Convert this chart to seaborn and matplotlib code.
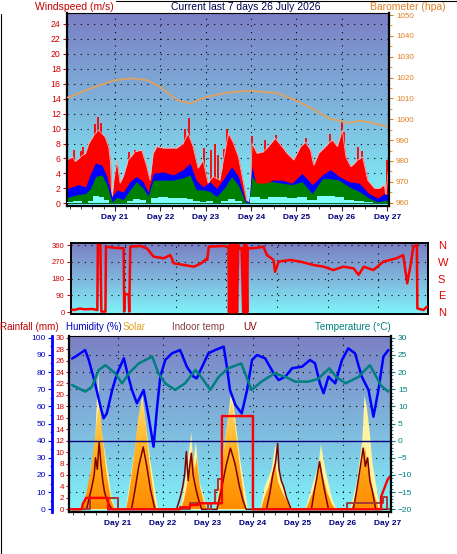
import numpy as np
import matplotlib
matplotlib.use('Agg')
import matplotlib.pyplot as plt
from matplotlib.colors import LinearSegmentedColormap
from matplotlib.patches import PathPatch
from matplotlib.ticker import MultipleLocator
import seaborn as sns

sns.set_style('ticks')
plt.rcParams['font.family'] = ['Liberation Sans', 'DejaVu Sans']

# ---- data (time in days of July 2026) ----
days = [21, 22, 23, 24, 25, 26, 27]
day_labels = ['Day 21', 'Day 22', 'Day 23', 'Day 24', 'Day 25', 'Day 26', 'Day 27']

gust_t = [19.95, 19.99, 20.07, 20.12, 20.2, 20.28, 20.35, 20.42, 20.53, 20.6, 20.64, 20.7, 20.78, 20.86,
          20.9, 20.93, 20.97, 21.04, 21.11, 21.18, 21.29, 21.44, 21.59, 21.7, 21.77, 21.84, 21.92, 22.06,
          22.21, 22.36, 22.5, 22.61, 22.72, 22.83, 22.94, 23.05, 23.16, 23.31, 23.43, 23.5, 23.6, 23.72,
          23.83, 23.91, 23.98, 24.02, 24.13, 24.27, 24.38, 24.53, 24.68, 24.79, 24.94, 25.09, 25.2, 25.31,
          25.38, 25.49, 25.64, 25.79, 25.9, 26.01, 26.09, 26.2, 26.35, 26.46, 26.57, 26.72, 26.83, 26.94,
          26.97, 27.02]
gust_v = [5.8, 6.0, 6.2, 5.6, 6.0, 6.4, 6.7, 8.0, 9.1, 9.6, 9.8, 9.4, 8.9, 7.5,
          5.4, 0.4, 3.0, 5.8, 2.7, 3.6, 5.8, 6.9, 7.1, 4.9, 3.1, 6.7, 7.6, 7.4,
          7.4, 7.4, 8.0, 9.4, 7.6, 4.7, 5.8, 2.7, 3.6, 3.1, 7.1, 9.4, 8.2, 6.2,
          2.7, 0.2, 0.4, 8.0, 6.7, 6.9, 7.6, 8.7, 7.6, 6.7, 5.8, 7.6, 8.2, 7.1,
          5.1, 6.7, 7.6, 8.5, 7.6, 9.8, 6.2, 4.9, 5.8, 6.2, 3.1, 2.0, 2.0, 2.5,
          0.9, 4.2]
spike_t = [20.1, 20.25, 20.3, 20.55, 20.62, 20.68, 21.3, 21.45, 21.52, 22.55, 22.62, 22.95, 23.12, 23.2,
           23.28, 23.4, 23.47, 24.03, 24.3, 24.55, 25.21, 25.75, 25.85, 26.0, 26.05, 26.35, 26.45, 26.99]
spike_v = [7.2, 7.0, 7.5, 10.6, 11.6, 10.8, 6.9, 7.2, 7.0, 10.0, 11.4, 7.4, 7.1, 7.9,
           6.5, 7.3, 10.0, 9.0, 8.5, 9.2, 8.8, 9.3, 8.0, 11.0, 9.5, 7.5, 7.0, 5.8]

wind_t = [19.95, 20.2, 20.35, 20.46, 20.57, 20.71, 20.82, 20.93, 21.04, 21.18, 21.33, 21.47, 21.62, 21.73,
          21.84, 22.06, 22.28, 22.5, 22.65, 22.79, 22.94, 23.09, 23.24, 23.43, 23.57, 23.72, 23.87, 23.95,
          24.02, 24.13, 24.27, 24.46, 24.68, 24.9, 25.12, 25.35, 25.57, 25.75, 25.94, 26.16, 26.38, 26.6,
          26.79, 26.94, 27.02]
avg_v = [2.0, 2.5, 2.2, 4.0, 5.4, 5.1, 3.6, 0.9, 1.8, 1.5, 2.9, 3.6, 2.9, 1.5,
         4.0, 4.2, 3.8, 4.5, 5.4, 3.1, 2.2, 2.9, 2.0, 3.6, 4.9, 3.6, 0.4, 0.2,
         4.9, 2.0, 2.2, 3.1, 3.1, 2.7, 4.0, 2.5, 3.8, 4.5, 3.6, 2.9, 2.7, 1.3,
         0.7, 1.3, 1.1]
low_v = [0.8, 1.2, 1.3, 2.0, 3.6, 3.8, 2.5, 0.2, 0.8, 0.5, 1.8, 2.9, 2.0, 1.0,
         3.1, 3.1, 3.1, 3.4, 3.8, 1.8, 1.8, 1.6, 0.9, 2.2, 3.6, 2.4, 0.2, 0.0,
         3.6, 2.7, 2.7, 2.9, 2.7, 2.5, 2.9, 1.3, 3.3, 3.3, 3.1, 2.2, 1.6, 0.7,
         0.2, 0.4, 0.4]
calm_v = [0.2, 0.3, 0.0, 0.3, 1.0, 0.9, 0.4, 0.0, 0.0, 0.0, 0.3, 0.6, 0.4, 0.0,
          0.7, 0.8, 0.7, 0.7, 0.6, 0.3, 0.2, 0.3, 0.0, 0.3, 0.6, 0.3, 0.0, 0.0,
          0.8, 0.8, 0.6, 0.8, 0.9, 0.7, 0.9, 0.4, 1.0, 1.0, 0.8, 0.5, 0.3, 0.2,
          0.0, 0.0, 0.0]

baro_t = [19.95, 20.01, 20.37, 20.67, 21.0, 21.4, 21.7, 21.99, 22.36, 22.66, 23.02, 23.54, 24.0, 24.6,
          24.97, 25.41, 25.7, 26.14, 26.44, 26.73, 27.02]
baro_v = [1010.5, 1010.8, 1014.0, 1016.4, 1018.8, 1019.6, 1018.8, 1015.6, 1009.2, 1007.6, 1010.8,
          1013.0, 1013.7, 1012.4, 1009.2, 1004.4, 1000.5, 998.3, 999.3, 998.0, 996.4]

dir_t = [19.95, 19.99, 20.1, 20.2, 20.35, 20.45, 20.46, 20.51, 20.53, 20.61, 20.62, 20.8, 20.97, 20.98,
         20.99, 21.07, 21.08, 21.1, 21.3, 21.43, 21.56, 21.76, 21.89, 21.96, 22.16, 22.36, 22.5, 22.6,
         22.62, 22.65, 22.94, 23.04, 23.05, 23.07, 23.09, 23.11, 23.13, 23.15, 23.17, 23.19, 23.21, 23.23,
         23.26, 23.3, 23.33, 23.35, 23.37, 23.39, 23.41, 23.42, 23.44, 23.6, 23.73, 23.8, 23.93, 23.96,
         24.03, 24.26, 24.46, 24.72, 24.92, 25.11, 25.31, 25.51, 25.61, 25.71, 25.9, 26.1, 26.36, 26.49,
         26.57, 26.63, 26.69, 26.76, 26.77, 26.89, 26.96]
dir_v = [15, 12, 20, 16, 18, 12, 360, 360, 4, 4, 351, 345, 342, 4,
         100, 93, 4, 351, 355, 342, 298, 289, 306, 262, 253, 244, 262, 285,
         280, 351, 355, 351, 0, 360, 0, 360, 0, 360, 0, 360, 0, 360,
         340, 345, 0, 360, 0, 360, 0, 345, 342, 345, 351, 306, 280, 217,
         271, 280, 271, 253, 244, 226, 244, 235, 200, 244, 226, 271, 289, 306,
         155, 244, 351, 360, 21, 12, 30]
compass = ['N', 'E', 'S', 'W', 'N']

hum_t = [19.98, 20.05, 20.27, 20.35, 20.49, 20.61, 20.68, 20.75, 20.87, 20.98, 21.13, 21.2, 21.31, 21.42,
         21.57, 21.68, 21.79, 21.87, 21.94, 22.05, 22.2, 22.38, 22.53, 22.68, 22.75, 22.87, 23.01, 23.16,
         23.35, 23.42, 23.49, 23.61, 23.75, 23.87, 23.98, 24.09, 24.27, 24.46, 24.57, 24.72, 24.87, 25.09,
         25.27, 25.38, 25.49, 25.57, 25.68, 25.83, 25.98, 26.12, 26.27, 26.42, 26.57, 26.68, 26.79, 26.9,
         27.01]
hum_v = [87.9, 88.9, 92.8, 87, 73.4, 59.8, 53, 55.9, 69.5, 79.3, 88, 80.2, 69.5, 61.8,
         69.5, 54, 36.5, 59.8, 77.3, 87, 90.9, 92.8, 83.1, 77.3, 76.3, 83.1, 90.9, 92.8,
         94.8, 83.1, 69.5, 60.8, 55.9, 69.5, 87, 89.9, 88, 79.3, 75.3, 77.3, 82.2, 83.1,
         87, 85.1, 73.4, 67.6, 77.3, 73.4, 87, 93.8, 90.9, 77.3, 69.5, 54, 69.5, 88.9,
         92.8]

temp_t = [19.98, 20.27, 20.42, 20.57, 20.72, 20.94, 21.09, 21.24, 21.46, 21.76, 21.9, 22.05, 22.27, 22.49,
          22.72, 22.87, 23.05, 23.24, 23.45, 23.74, 23.97, 24.19, 24.48, 24.72, 24.94, 25.24, 25.45, 25.7,
          25.85, 26.06, 26.35, 26.6, 26.75, 26.85, 27.01]
temp_v = [16.2, 14.3, 15.7, 20.6, 22.0, 19.6, 16.7, 19.6, 22.5, 24.5, 19.6, 16.7, 14.8, 16.7,
          20.6, 18.2, 14.8, 18.6, 21.1, 22.5, 14.8, 17.2, 19.6, 18.6, 17.2, 17.2, 18.0, 21.1,
          18.6, 16.7, 18.6, 22.0, 18.5, 16.0, 14.3]

# solar and uv plotted against the rainfall scale
solar_t = [19.95, 20.19, 20.3, 20.4, 20.48, 20.55, 20.6, 20.65, 20.75, 20.85, 20.93,
           21.18, 21.25, 21.35, 21.45, 21.53, 21.6, 21.7, 21.8, 21.86,
           22.4, 22.48, 22.55, 22.6, 22.65, 22.7, 22.75, 22.82, 22.9, 22.98,
           23.18, 23.25, 23.35, 23.45, 23.53, 23.6, 23.7, 23.8, 23.86,
           24.18, 24.25, 24.35, 24.42, 24.49, 24.55, 24.65, 24.75, 24.85,
           25.18, 25.28, 25.38, 25.45, 25.49, 25.55, 25.65, 25.75, 25.83,
           26.18, 26.28, 26.35, 26.42, 26.49, 26.55, 26.65, 26.72, 26.8, 27.03]
solar_v = [0, 0, 3, 7, 12, 17, 18, 13, 6, 1.5, 0,
           0, 3, 9, 16, 19.4, 16, 8, 2, 0,
           0, 2, 5, 8, 10.5, 7, 9, 4, 1.5, 0,
           0, 3, 10, 16, 19.1, 15, 8, 2, 0,
           0, 2, 4, 6, 8.6, 5, 3, 1.5, 0,
           0, 2, 4, 6.5, 8.9, 6, 3, 1, 0,
           0, 2, 5, 8, 10.9, 8, 4, 2, 0, 0]
smax_t = [19.95, 20.18, 20.35, 20.48, 20.55, 20.58, 20.62, 20.7, 20.85, 20.94,
          21.16, 21.35, 21.53, 21.7, 21.88,
          22.38, 22.5, 22.62, 22.66, 22.72, 22.8, 22.97,
          23.16, 23.3, 23.45, 23.5, 23.55, 23.7, 23.88,
          24.15, 24.25, 24.4, 24.49, 24.55, 24.7, 24.87,
          25.15, 25.3, 25.45, 25.5, 25.6, 25.75, 25.85,
          26.15, 26.3, 26.42, 26.47, 26.52, 26.58, 26.65, 26.82, 27.03]
smax_v = [0, 0, 5, 12, 25, 16, 14, 10, 2, 0,
          0, 10, 20, 9, 0,
          0, 6, 13.6, 8, 12, 5, 0,
          0, 8, 17, 20.5, 19, 9, 0,
          0, 4, 7, 11.5, 7, 3, 0,
          0, 4, 8, 11.5, 7, 2, 0,
          0, 5, 12, 20, 18, 14, 8, 0, 0]
uv_t = [19.95, 20.3, 20.36, 20.42, 20.47, 20.5, 20.54, 20.58, 20.62, 20.66, 20.7, 20.76, 20.86,
        21.3, 21.38, 21.46, 21.56, 21.64, 21.72, 21.82,
        22.3, 22.38, 22.44, 22.48, 22.52, 22.56, 22.6, 22.63, 22.67, 22.72, 22.78, 22.86,
        23.2, 23.3, 23.4, 23.5, 23.6, 23.7, 23.78, 23.85,
        24.3, 24.38, 24.44, 24.5, 24.55, 24.58, 24.63, 24.68, 24.75, 24.85,
        25.3, 25.36, 25.42, 25.48, 25.53, 25.6, 25.68,
        26.23, 26.3, 26.36, 26.4, 26.45, 26.5, 26.55, 26.6, 26.66, 26.73, 27.02]
uv_v = [0, 0, 2, 4, 6, 9, 7, 11.8, 8, 5, 3, 1.5, 0,
        0, 3.5, 7.5, 10.9, 7.5, 3.5, 0,
        0, 2, 4, 6, 10.1, 5, 8, 9.8, 6, 4, 2, 0,
        0, 3.5, 7.5, 10.7, 8, 4, 1.5, 0,
        0, 3, 6, 8, 11.5, 7, 5, 4, 2, 0,
        0, 3, 5.5, 8.3, 6, 3, 0,
        0, 3, 6, 8, 10.7, 7.5, 9, 5, 3, 0, 0]

rain_t = [19.95, 20.19, 20.22, 20.29, 20.78, 20.78, 22.38, 22.38, 22.6, 22.6, 22.78, 22.78, 23.31, 23.31,
          24.0, 24.0, 26.85, 26.85, 26.99, 27.03]
rain_v = [0, 0, 1.0, 2.0, 2.0, 0, 0, 0.35, 0.35, 0.75, 0.75, 1.05, 1.05, 16.3,
          16.3, 0, 0, 2.2, 5.1, 5.6]
rain2_t = [19.95, 20.38, 20.38, 21.01, 21.01, 22.6, 22.6, 23.0, 23.0, 23.06, 23.06, 23.16, 23.16, 23.23,
           23.23, 23.32, 23.32, 24.0, 24.0, 26.09, 26.09, 26.89, 26.89, 26.99, 26.99, 27.03]
rain2_v = [0, 0, 2.0, 2.0, 0, 0, 1.05, 1.05, 0, 0, 1.05, 1.05, 3.4, 3.4,
           5.3, 5.3, 16.3, 16.3, 0, 0, 1.05, 1.05, 2.2, 2.2, 0, 0]

W, H = 457, 554
BG = LinearSegmentedColormap.from_list('bg', ['#80f4fa', '#7fb6dc', '#7b7fc4'])
SUN = LinearSegmentedColormap.from_list('sun', ['#ff8c00', '#ffb020', '#ffe070'])
DOTS = (0, (1, 5))


def px_box(left, top, right, bottom):
    return [left / W, 1 - bottom / H, (right - left) / W, (bottom - top) / H]


def background(ax, xlim, ylim):
    g = np.linspace(0, 1, 256).reshape(-1, 1)
    ax.imshow(g, extent=[*xlim, *ylim], origin='lower', aspect='auto', cmap=BG, zorder=0)
    ax.set_xlim(*xlim)
    ax.set_ylim(*ylim)


def dotted_grid(ax, ys, xs):
    for y in ys:
        ax.axhline(y, color='black', lw=0.8, ls=DOTS, zorder=1)
    for x in xs:
        ax.axvline(x, color='black', lw=0.8, ls=DOTS, zorder=1)


def spines(ax, keep, lw=1.6, color='black'):
    for side, sp in ax.spines.items():
        sp.set_visible(side in keep)
        sp.set_linewidth(lw)
        sp.set_color(color)


def day_axis(ax):
    ax.set_xticks(days, labels=day_labels)
    ax.xaxis.set_minor_locator(MultipleLocator(0.25))
    ax.tick_params(axis='x', which='major', length=3.5, pad=2, labelsize=6,
                   labelcolor='#000080', bottom=True)
    ax.tick_params(axis='x', which='minor', length=2, bottom=True)
    for lab in ax.get_xticklabels():
        lab.set_fontweight('bold')


def wind_panel(fig):
    ax = fig.add_axes(px_box(67, 13, 389, 206))
    xlim = (19.94, 27.04)
    background(ax, xlim, (-0.36, 25.47))
    dotted_grid(ax, range(2, 25, 2), days[:-1])

    ax.fill_between(gust_t, 0, gust_v, color='#ff0000', lw=0, zorder=2)
    ax.vlines(spike_t, 0, spike_v, color='#ff0000', lw=1.3, zorder=2)
    sns.lineplot(x=gust_t, y=gust_v, ax=ax, color='#ffb0b0', lw=0.6, sort=False, estimator=None, zorder=2.1)
    ax.fill_between(wind_t, 0, avg_v, color='#0000ff', lw=0, zorder=3)
    ax.fill_between(wind_t, 0, low_v, color='#008000', lw=0, zorder=3.1)
    ax.fill_between(wind_t, 0, calm_v, step='mid', color='#80ffff', lw=0, zorder=3.2)

    ax.set_yticks(range(0, 25, 2))
    ax.tick_params(axis='y', length=3, pad=1.5, labelsize=6.3, color='#cc0000',
                   labelcolor='#cc0000', left=True)
    day_axis(ax)
    ax.set_xlabel('')
    ax.set_ylabel('')

    axb = ax.twinx()
    sns.lineplot(x=baro_t, y=baro_v, ax=axb, color='#e0a060', lw=1.3, sort=False, estimator=None)
    axb.set_ylim(958.42, 1050.96)
    axb.set_yticks(range(960, 1051, 10))
    axb.yaxis.set_minor_locator(MultipleLocator(5))
    axb.tick_params(axis='y', which='both', length=3, pad=2, labelsize=5.8, color='#e08020',
                    labelcolor='#e08020', right=True)
    axb.tick_params(axis='y', which='minor', length=1.8)
    axb.set_ylabel('')
    spines(ax, ['left', 'bottom', 'top'])
    ax.spines['top'].set_linewidth(0.8)
    spines(axb, ['right'])


def direction_panel(fig):
    ax = fig.add_axes(px_box(71, 243, 428, 314))
    xlim = (19.93, 26.98)
    background(ax, xlim, (-9.1, 370.7))
    dotted_grid(ax, [90, 180, 270, 360], days[:-1])
    sns.lineplot(x=dir_t, y=dir_v, ax=ax, color='#ff0000', lw=1.8, sort=False, estimator=None, zorder=3)
    ax.set_yticks([0, 90, 180, 270, 360])
    ax.set_xticks([])
    ax.tick_params(axis='y', length=3, pad=1.5, labelsize=5.6, color='#cc0000',
                   labelcolor='#cc0000', left=True)
    ax.set_ylabel('')
    spines(ax, ['left', 'bottom', 'top', 'right'], lw=1.4)

    axb = ax.twinx()
    axb.set_ylim(-9.1, 370.7)
    axb.set_yticks([0, 90, 180, 270, 360], labels=compass)
    axb.tick_params(axis='y', length=0, pad=7, labelsize=8, labelcolor='#e00000', right=True)
    spines(axb, [])


def gradient_fill(ax, x, y, top):
    poly = ax.fill_between(x, 0, y, facecolor='none', edgecolor='none')
    patch = PathPatch(poly.get_paths()[0], transform=ax.transData, facecolor='none', edgecolor='none')
    ax.add_patch(patch)
    g = np.linspace(0, 1, 256).reshape(-1, 1)
    im = ax.imshow(g, extent=[x[0], x[-1], 0, top], origin='lower', aspect='auto', cmap=SUN, zorder=2.5)
    im.set_clip_path(patch)


def weather_panel(fig):
    ax = fig.add_axes(px_box(69, 336, 391, 512))
    xlim = (19.91, 27.07)
    ylim = (-0.47, 30.3)
    background(ax, xlim, ylim)
    dotted_grid(ax, [3 * k for k in range(1, 10)], days[:-1])

    ax.fill_between(smax_t, 0, smax_v, color='#fff3a0', lw=0, zorder=2)
    gradient_fill(ax, solar_t, solar_v, 20)
    ax.set_xlim(*xlim)
    ax.set_ylim(*ylim)
    ax.axhline(11.94, color='#000080', lw=1, zorder=3)
    sns.lineplot(x=uv_t, y=uv_v, ax=ax, color='#800000', lw=1.1, sort=False, estimator=None, zorder=4)
    sns.lineplot(x=rain2_t, y=rain2_v, ax=ax, color='#a83838', lw=1.4, sort=False, estimator=None, zorder=4.5)
    sns.lineplot(x=rain_t, y=rain_v, ax=ax, color='#ff0000', lw=1.7, sort=False, estimator=None, zorder=5)

    ax.set_yticks(range(0, 31, 2))
    ax.tick_params(axis='y', length=2.5, pad=1, labelsize=5.8, color='#cc0000',
                   labelcolor='#cc0000', left=True)
    day_axis(ax)
    ax.set_ylabel('')

    axh = ax.twinx()
    sns.lineplot(x=hum_t, y=hum_v, ax=axh, color='#0000ff', lw=1.8, sort=False, estimator=None)
    axh.set_ylim(-1.57, 100.99)
    axh.yaxis.tick_left()
    axh.yaxis.set_label_position('left')
    axh.spines['left'].set_position(('outward', 12.2))
    axh.set_yticks(range(0, 101, 10))
    axh.yaxis.set_minor_locator(MultipleLocator(5))
    axh.tick_params(axis='y', which='both', length=3, pad=1.5, labelsize=6, color='#0000ff',
                    labelcolor='#0000c0', left=True, right=False)
    axh.tick_params(axis='y', which='minor', length=1.8)
    axh.set_ylabel('')
    spines(axh, ['left'], lw=2, color='#0000ff')

    axt = ax.twinx()
    sns.lineplot(x=temp_t, y=temp_v, ax=axt, color='#008080', lw=1.8, sort=False, estimator=None)
    axt.set_ylim(-20.79, 30.5)
    axt.set_yticks(range(-20, 31, 5))
    axt.yaxis.set_minor_locator(MultipleLocator(1))
    axt.tick_params(axis='y', which='both', length=3, pad=2, labelsize=6, color='#008080',
                    labelcolor='#008080', right=True)
    axt.tick_params(axis='y', which='minor', length=1.5)
    axt.set_ylabel('')
    spines(ax, ['left', 'bottom', 'top'])
    ax.spines['top'].set_linewidth(0.8)
    spines(axt, ['right'])


fig = plt.figure(figsize=(W / 100, H / 100), dpi=100)
fig.patch.set_facecolor('white')

wind_panel(fig)
direction_panel(fig)
weather_panel(fig)


def label(x, y, text, color, ha='left', size=7.5):
    fig.text(x / W, 1 - y / H, text, color=color, fontsize=size, ha=ha, va='center')


label(35, 6.5, 'Windspeed (m/s)', '#c00000')
label(246, 6.5, 'Current last 7 days 26 July 2026', '#000050', ha='center')
label(446, 6.5, 'Barometer (hpa)', '#e08020', ha='right')
label(0, 327, 'Rainfall (mm)', '#c00000', size=7.1)
label(66, 327, 'Humidity (%)', '#0000c0', size=7.0)
label(123, 327, 'Solar', '#e0a020', size=7.1)
label(172, 327, 'Indoor temp', '#804040', size=7.1)
label(243, 327, 'UV', '#800000', size=7.1)
label(391, 327, 'Temperature (\u00b0C)', '#008080', ha='right', size=7.1)

fig.add_artist(plt.Line2D([0.5 / W, 0.5 / W], [0, 1 - 14 / H], color='black', lw=0.8))
fig.add_artist(plt.Line2D([116 / W, 1], [1 - 0.5 / H, 1 - 0.5 / H], color='black', lw=0.8))

fig.savefig('out.png', dpi=100)
plt.close(fig)
